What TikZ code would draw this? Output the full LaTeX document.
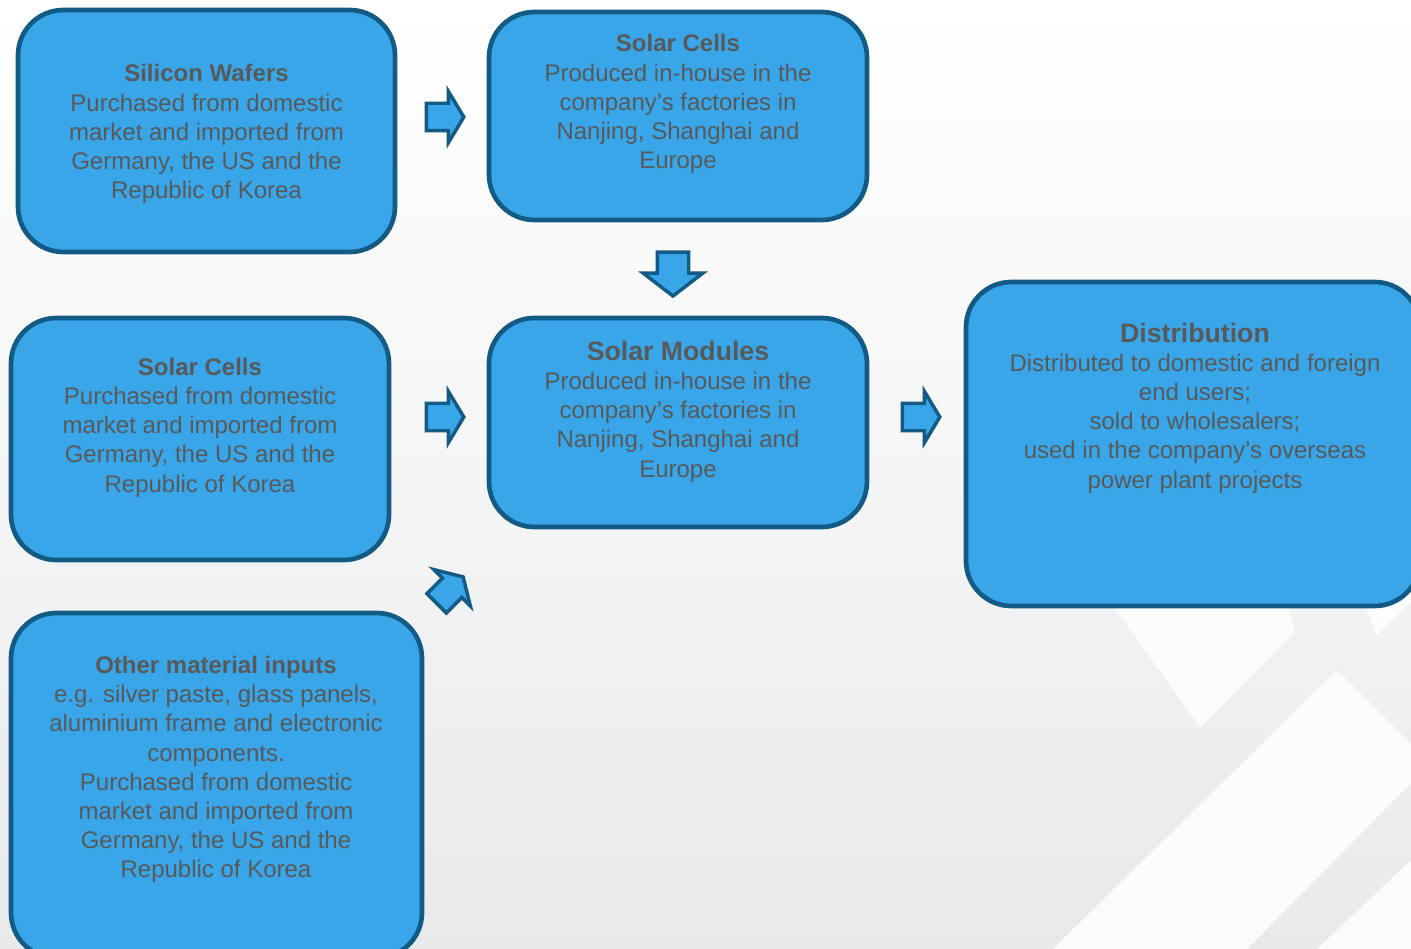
\documentclass[tikz,border=0pt]{standalone}
\usepackage{fontspec}
\setmainfont{Liberation Sans}
\usetikzlibrary{shapes.arrows,positioning}
\definecolor{boxblue}{HTML}{38A6E8}
\definecolor{boxedge}{HTML}{135A84}
\definecolor{txtgray}{HTML}{595959}
\definecolor{bggray}{HTML}{E8E9EB}
\newcommand\TitleBig{\fontsize{20}{21.9}\selectfont\bfseries}
\tikzset{
  box/.style={draw=boxedge, fill=boxblue, line width=3.5pt, rounded corners=34pt, inner sep=0pt},
  txt/.style={text=txtgray, align=center, font=\fontsize{18}{21.9}\selectfont, inner sep=0pt},
  blockarrow/.style={single arrow, draw=boxedge, fill=boxblue, line width=2.6pt, inner xsep=0pt, inner ysep=9pt,
    minimum height=28pt, single arrow head extend=9pt, single arrow tip angle=118},
}
\begin{document}
\begin{tikzpicture}[x=0.75pt,y=-0.75pt]
\useasboundingbox (0,0) rectangle (1411,949);
\clip (0,0) rectangle (1411,949);
\shade [top color=white, bottom color=bggray, middle color=white!55!bggray] (0,0) rectangle (1411,949);
\fill [white, opacity=0.85] (1080,560) -- (1273,560) -- (1295,632) -- (1200,727) -- cycle;
\fill [white, opacity=0.85] (1347,560) -- (1411,560) -- (1411,602) -- (1377,635) -- cycle;
\fill [white, opacity=0.85] (1337,670) -- (1411,744) -- (1411,783) -- (1247,949) -- (1053,949) -- cycle;
\fill [white, opacity=0.85] (1411,860) -- (1411,949) -- (1317,949) -- cycle;

\node [box, minimum width=282.75pt, minimum height=181.5pt] (wafers) at (206.5,131) {};
\node [box, minimum width=283.5pt, minimum height=156pt] (cellsOwn) at (678,116) {};
\node [box, minimum width=283.5pt, minimum height=181.5pt] (cellsBuy) at (200,439) {};
\node [box, minimum width=283.5pt, minimum height=156.75pt] (modules) at (678,422.5) {};
\node [box, minimum width=340.5pt, minimum height=243pt] (distrib) at (1193,444) {};
\node [box, minimum width=308.25pt, minimum height=258.75pt] (inputs) at (216.5,785.5) {};

\node [txt] (wafersTxt) at (206.5,134) {\textbf{Silicon Wafers}\\Purchased from domestic\\market and imported from\\Germany, the US and the\\Republic of Korea};
\node [txt] (cellsOwnTxt) at (678,104) {\textbf{Solar Cells}\\Produced in-house in the\\company’s factories in\\Nanjing, Shanghai and\\Europe};
\node [txt] (cellsBuyTxt) at (200,427.5) {\textbf{Solar Cells}\\Purchased from domestic\\market and imported from\\Germany, the US and the\\Republic of Korea};
\node [txt] (modulesTxt) at (678,411.5) {{\TitleBig Solar Modules}\\Produced in-house in the\\company’s factories in\\Nanjing, Shanghai and\\Europe};
\node [txt] (distribTxt) at (1195,408) {{\TitleBig Distribution}\\Distributed to domestic and foreign\\end users;\\sold to wholesalers;\\used in the company’s overseas\\power plant projects};
\node [txt] (inputsTxt) at (216,769.5) {\textbf{Other material inputs}\\e.g. silver paste, glass panels,\\aluminium frame and electronic\\components.\\Purchased from domestic\\market and imported from\\Germany, the US and the\\Republic of Korea};

\node [blockarrow] (arrA) at (441,117) {};
\node [blockarrow, rotate=-90, inner ysep=10.5pt, minimum height=33pt, single arrow head extend=10.5pt, single arrow tip angle=105] (arrB) at (673,268) {};
\node [blockarrow] (arrC) at (441,417) {};
\node [blockarrow, rotate=45] (arrD) at (447,593) {};
\node [blockarrow] (arrE) at (917,417) {};
\end{tikzpicture}
\end{document}
